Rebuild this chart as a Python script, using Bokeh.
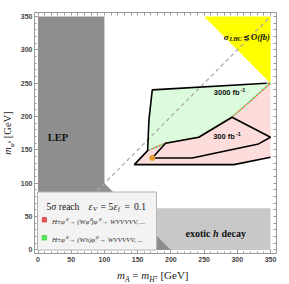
from bokeh.plotting import figure
from bokeh.models import Range1d, LinearAxis, FixedTicker, Label, BoxAnnotation, Div
from bokeh.layouts import row, column
from bokeh.embed import file_html
from bokeh.resources import INLINE

# ---------------- data ----------------
tick_values = [0, 50, 100, 150, 200, 250, 300, 350]
minor_tick_values = list(range(0, 360, 10))

lep_x = [0, 200, 100, 100, 0]
lep_y = [0, 0, 100, 350, 350]
exotic_x = [0, 350, 350, 0]
exotic_y = [0, 0, 62.5, 62.5]
lhc_x = [250, 350, 350]
lhc_y = [350, 350, 250]
diag_x = [0, 350]
diag_y = [0, 350]

red_region_x = [145, 295, 350, 350, 292, 242, 192, 165]
red_region_y = [128, 128, 139, 250, 199, 169, 160, 149]
green_region_x = [165, 167, 172, 344, 350, 292, 242, 192]
green_region_y = [149, 195, 240, 250, 250, 199, 169, 160]
boundary_x = [165, 192, 242, 292, 350, 344]
boundary_y = [149, 160, 169, 199, 250, 250]

c3000_x = [344, 172, 167, 165, 145, 295, 350]
c3000_y = [250, 240, 195, 149, 128, 128, 139]
c300_x = [172, 192, 242, 292, 350, 332, 232, 172]
c300_y = [138, 160, 169, 199, 169, 159, 138, 138]
bench_x = [172]
bench_y = [138]

legend_labels = ["H±φ⁰ → (Wφ⁰)φ⁰ → WVVVVV, ...",
                 "H±φ⁰ → (Wh)φ⁰ → WVVVVV, ..."]
legend_colors = ["#f05555", "#55ee55"]
legend_edges = ["#d04444", "#44cc44"]

# ---------------- layout ----------------
YDIV_W = 15
W, H = 274, 266
ML, MR, MT, MB = 19, 13, 12, 13
XR0, XR1 = -5.27, 359.0
YR0, YR1 = -5.25, 356.0
FL = YDIV_W + ML
FB = H - MB
SX = (W - ML - MR) / (XR1 - XR0)
SY = (H - MT - MB) / (YR1 - YR0)


def dx(px):
    return XR0 + (px - FL) / SX


def dy(py):
    return YR0 + (FB - py) / SY


p = figure(width=W, height=H, output_backend="svg", toolbar_location=None,
           x_range=Range1d(XR0, XR1), y_range=Range1d(YR0, YR1),
           min_border_left=ML, min_border_right=MR, min_border_top=MT,
           min_border_bottom=MB, x_axis_location=None, y_axis_location=None,
           margin=0)
p.grid.visible = False
p.outline_line_color = None
p.background_fill_color = "white"
p.border_fill_color = "white"

AX = "#9a9a9a"


def style_axis(ax, labels=True):
    ax.axis_line_color = AX
    ax.major_tick_line_color = AX
    ax.minor_tick_line_color = AX
    ax.major_tick_out = 0
    ax.minor_tick_out = 0
    if labels:
        ax.ticker = FixedTicker(ticks=tick_values, minor_ticks=minor_tick_values)
        ax.major_tick_in = 4
        ax.minor_tick_in = 2
        ax.major_label_text_font = "Liberation Sans"
        ax.major_label_text_font_style = "bold"
        ax.major_label_text_font_size = "7px"
        ax.major_label_text_color = "#444444"
        ax.major_label_standoff = 3
    else:
        ax.ticker = FixedTicker(ticks=[], minor_ticks=minor_tick_values)
        ax.minor_tick_in = 3
        ax.major_label_standoff = 0


bottom = LinearAxis()
left = LinearAxis()
top = LinearAxis()
right = LinearAxis()
style_axis(bottom)
style_axis(left)
left.major_label_standoff = 2
style_axis(top, False)
style_axis(right, False)
p.add_layout(bottom, "below")
p.add_layout(left, "left")
p.add_layout(top, "above")
p.add_layout(right, "right")

# regions
p.patch(exotic_x, exotic_y, fill_color="#c8c8c8", line_color=None)
p.patch(lep_x, lep_y, fill_color="#8e8e8e", line_color=None)
p.patch(lhc_x, lhc_y, fill_color="#ffff00", line_color=None)
p.patch(red_region_x, red_region_y, fill_color="#fddcdc", line_color=None)
p.patch(green_region_x, green_region_y, fill_color="#dcfadc", line_color=None)
p.line(diag_x, diag_y, line_color="#a8a8a8", line_width=1.2, line_dash="4 3")
p.line(boundary_x, boundary_y, line_color="#ff6060", line_width=1.5, line_dash="2 2")
p.line(boundary_x, boundary_y, line_color="#60e060", line_width=1.5,
       line_dash="2 2", line_dash_offset=2)
p.line(c3000_x, c3000_y, line_color="black", line_width=1.6)
p.line(c300_x, c300_y, line_color="black", line_width=1.6)
p.scatter(bench_x, bench_y, marker="circle", size=5, fill_color="#e89a2a",
          line_color="#e89a2a")


def lab(px, py, text, size, style="normal", font="Liberation Serif",
        align="left", color="#111111"):
    p.add_layout(Label(x=dx(px), y=dy(py), text=text, text_font=font,
                       text_font_size=f"{size}px", text_font_style=style,
                       text_align=align, text_baseline="alphabetic",
                       text_color=color))


# ---- legend box (built from annotations) ----
p.add_layout(BoxAnnotation(left=dx(37), right=dx(156), top=dy(191.5), bottom=dy(249.5),
                           fill_color="#f3f3f3", fill_alpha=1,
                           line_color="#b5b5b5", line_width=1, line_alpha=1))
lab(46, 206, "5σ reach", 9.5)
for args in [(88, 206, "ε", 9.5, "italic"), (92.5, 208, "V", 6.5, "italic"),
             (100, 206, "=", 9.5), (108, 206, "5", 9.5),
             (113, 206, "ε", 9.5, "italic"), (117.5, 208, "f", 6.5, "italic"),
             (124, 206, "=", 9.5), (133.5, 206, "0.1", 9.5)]:
    lab(*args)
for i, (txt, fc, ec) in enumerate(zip(legend_labels, legend_colors, legend_edges)):
    cy = 219.3 + 18 * i
    p.add_layout(BoxAnnotation(left=dx(41.7), right=dx(46), top=dy(cy - 2.2),
                               bottom=dy(cy + 2.2), fill_color=fc, fill_alpha=1,
                               line_color=ec, line_width=0.8, line_alpha=1))
    lab(51.5, cy + 2.2, txt, 7, "italic", color="#333333")

# region labels
lab(57.5, 137, "LEP", 10.5, "bold", align="center")
lab(185, 233, "exotic", 10, "bold")
lab(212.5, 233, "h", 10, "bold italic")
lab(221, 233, "decay", 10, "bold")
lab(213.3, 92, "3000 fb", 7.5, "bold", font="Liberation Sans")
lab(240, 89, "-1", 5.5, "bold", font="Liberation Sans")
lab(212.7, 136, "300 fb", 7.5, "bold", font="Liberation Sans")
lab(235.5, 133, "-1", 5.5, "bold", font="Liberation Sans")
lab(223.3, 36, "σ", 9, "bold italic")
lab(229, 38, "LHC", 6, "bold italic")
lab(242, 36, "≲", 8, "bold", font="DejaVu Serif")
lab(250.5, 36, "O(fb)", 8.5, "bold italic")

# axis titles as real text with sub/superscripts
xdiv = Div(width=W + YDIV_W, height=284 - H, margin=0, text=(
    "<div style=\"margin-left:117px;margin-top:3px;font-family:'Liberation Serif';"
    "font-size:11px;line-height:12px;white-space:nowrap;color:#222\">"
    "<i>m</i><sub style='font-size:7.5px'><i>A</i></sub> = "
    "<i>m</i><sub style='font-size:7.5px'><i>H</i><sup style='font-size:5.5px'>±</sup></sub>"
    " [GeV]</div>"))
ydiv = Div(width=YDIV_W, height=H, margin=0, text=(
    "<div style=\"width:100px;height:12px;margin-left:-42.5px;margin-top:127px;"
    "transform:rotate(-90deg);text-align:center;font-family:'Liberation Serif';"
    "font-size:10.5px;line-height:12px;white-space:nowrap;color:#222\">"
    "<i>m</i><sub style='font-size:7px'><i>φ</i><sup style='font-size:5px'>0</sup></sub>"
    " [GeV]</div>"))

layout = column(row(ydiv, p, margin=0), xdiv, margin=0)
open("out.html", "w").write(file_html(layout, INLINE))
